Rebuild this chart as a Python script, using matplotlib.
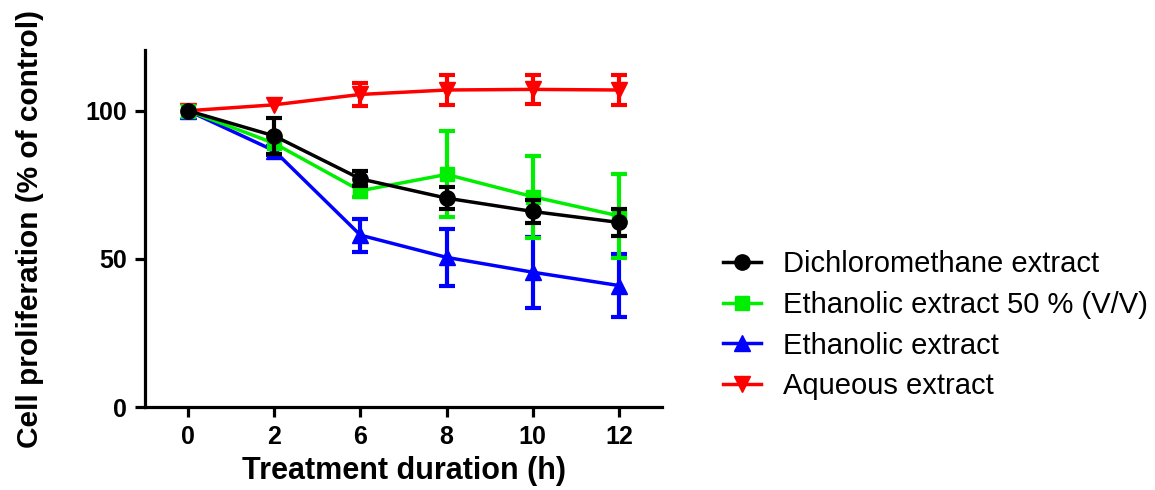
import matplotlib
matplotlib.use('Agg')
import matplotlib.pyplot as plt
import numpy as np

plt.rcParams['font.family'] = ['Liberation Sans', 'DejaVu Sans']

# Data
hours = ['0', '2', '6', '8', '10', '12']

dcm_mean = [100, 91.5, 77, 70.5, 66, 62.3]
dcm_err = [0, 6, 2.5, 3.6, 4, 4.5]

eth50_mean = [100, 89, 73, 78.5, 71, 64.5]
eth50_err = [0, 0, 2, 14.5, 13.8, 14.1]

eth_mean = [100, 86.5, 58, 50.5, 45.5, 41]
eth_err = [0, 1.5, 5.6, 9.5, 12, 10.5]

aq_mean = [100, 102, 105.5, 107, 107.2, 107]
aq_err = [0, 0, 4, 5, 5, 5]

labels = ['Dichloromethane extract', 'Ethanolic extract 50 % (V/V)',
          'Ethanolic extract', 'Aqueous extract']

fig = plt.figure(figsize=(11.55, 4.9), dpi=100)
ax = fig.add_axes([145 / 1155, 83 / 490, 517 / 1155, 357 / 490])

x = np.arange(len(hours))

series = [
    (dcm_mean, dcm_err, 'black', 'o', 11, labels[0], 5),
    (eth50_mean, eth50_err, '#00ee00', 's', 10, labels[1], 4),
    (eth_mean, eth_err, '#0000ff', '^', 11, labels[2], 3),
    (aq_mean, aq_err, '#ff0000', 'v', 11, labels[3], 2),
]

for mean, err, col, mk, ms, lab, z in series:
    # no bar drawn where the error is zero
    e = np.where(np.array(err) > 0, err, np.nan)
    ax.errorbar(x, mean, yerr=e, color=col, marker=mk, markersize=ms,
                linewidth=2.5, elinewidth=3, capsize=5.5, capthick=3,
                label=lab, zorder=z)

ax.set_xlim(-0.5, 5.5)
ax.set_ylim(0, 120.5)
ax.set_xticks(x)
ax.set_xticklabels(hours)
ax.set_yticks([0, 50, 100])

ax.spines['top'].set_visible(False)
ax.spines['right'].set_visible(False)
for s in ['left', 'bottom']:
    ax.spines[s].set_linewidth(2.3)
ax.tick_params(axis='both', direction='out', length=7, width=2.3,
               labelsize=18, pad=6)
for t in ax.get_xticklabels() + ax.get_yticklabels():
    t.set_fontweight('bold')

ax.set_xlabel('Treatment duration (h)', fontsize=22, fontweight='bold', labelpad=5)
ax.set_ylabel('Cell proliferation (% of control)', fontsize=21.5, fontweight='bold', labelpad=30)

leg_handles = []
for mean, err, col, mk, ms, lab, z in series:
    ln, = ax.plot([], [], color=col, marker=mk, markersize=ms, linewidth=2.5)
    leg_handles.append(ln)

fig.legend(leg_handles, labels, loc='upper left',
           bbox_to_anchor=(723 / 1155, 1 - 250 / 490),
           frameon=False, fontsize=21, handlelength=1.3, handletextpad=0.75,
           labelspacing=0.44, borderpad=0, borderaxespad=0, numpoints=1)

fig.savefig('out.png', dpi=100)
